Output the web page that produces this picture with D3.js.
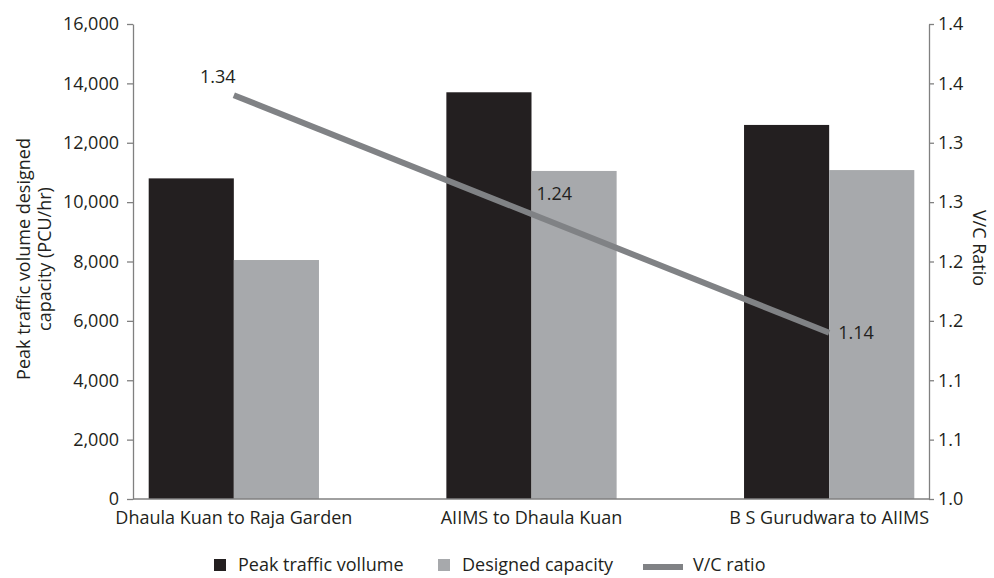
<!DOCTYPE html>
<html>
<head>
<meta charset="utf-8">
<script src="https://cdn.jsdelivr.net/npm/d3@7"></script>
<style>
  body { margin: 0; background: #fff; }
  svg text { font-family: "Open Sans", "Noto Sans", sans-serif; fill: #231f20; }
</style>
</head>
<body>
<svg></svg>
<script>
///////////////////////////////////////////
// Data
var categories = ["Dhaula Kuan to Raja Garden", "AIIMS to Dhaula Kuan", "B S Gurudwara to AIIMS"];
var peakVolume = [10800, 13700, 12600];
var designedCapacity = [8050, 11050, 11080];
var vcRatio = [1.34, 1.24, 1.14];
var vcLabels = ["1.34", "1.24", "1.14"];

var leftTicks = [0, 2000, 4000, 6000, 8000, 10000, 12000, 14000, 16000];
var rightTicks = [1.0, 1.05, 1.1, 1.15, 1.2, 1.25, 1.3, 1.35, 1.4];
var rightTickLabels = ["1.0", "1.1", "1.1", "1.2", "1.2", "1.3", "1.3", "1.4", "1.4"];

var seriesNames = ["Peak traffic vollume", "Designed capacity", "V/C ratio"];

///////////////////////////////////////////
// Layout
var svgWidth = 994, svgHeight = 578;
var plotLeft = 133, plotRight = 929, plotTop = 24, plotBottom = 499;
var barColor = "#231f20", capColor = "#a7a9ac", lineColor = "#808285", axisColor = "#808080";
var fontSize = 18;

var svg = d3.select("svg").attr("width", svgWidth).attr("height", svgHeight);

var x = d3.scaleBand().domain(categories).range([85, 978])
          .paddingInner(0.428).paddingOuter(0.214);
var xSub = d3.scaleBand().domain([0, 1]).range([0, x.bandwidth()]);
var yLeft = d3.scaleLinear().domain([0, 16000]).range([plotBottom, plotTop]);
var yRight = d3.scaleLinear().domain([1.0, 1.4]).range([plotBottom, plotTop]);

///////////////////////////////////////////
// Bars
var groups = svg.append("g").selectAll("g")
  .data(categories).join("g")
  .attr("transform", function(d) { return "translate(" + x(d) + ",0)"; });

groups.append("rect")
  .attr("x", xSub(0)).attr("width", xSub.bandwidth())
  .attr("y", function(d, i) { return yLeft(peakVolume[i]); })
  .attr("height", function(d, i) { return plotBottom - yLeft(peakVolume[i]); })
  .attr("fill", barColor);

groups.append("rect")
  .attr("x", xSub(1)).attr("width", xSub.bandwidth())
  .attr("y", function(d, i) { return yLeft(designedCapacity[i]); })
  .attr("height", function(d, i) { return plotBottom - yLeft(designedCapacity[i]); })
  .attr("fill", capColor);

///////////////////////////////////////////
// Axes
var leftAxis = svg.append("g").attr("transform", "translate(" + plotLeft + ",0)")
  .call(d3.axisLeft(yLeft).tickValues(leftTicks).tickFormat(d3.format(",")).tickSize(6).tickSizeOuter(0).tickPadding(8));
var rightAxis = svg.append("g").attr("transform", "translate(" + plotRight + ",0)")
  .call(d3.axisRight(yRight).tickValues(rightTicks)
    .tickFormat(function(d, i) { return rightTickLabels[i]; })
    .tickSize(5).tickSizeOuter(0).tickPadding(4));
[leftAxis, rightAxis].forEach(function(a) {
  a.selectAll("path, line").attr("stroke", axisColor).attr("stroke-width", 1.3);
  a.selectAll("text").attr("font-size", fontSize).attr("fill", "#231f20");
});

svg.append("line")
  .attr("x1", plotLeft).attr("x2", plotRight)
  .attr("y1", plotBottom).attr("y2", plotBottom)
  .attr("stroke", axisColor).attr("stroke-width", 1.3);

svg.append("g").selectAll("text")
  .data(categories).join("text")
  .attr("x", function(d) { return x(d) + x.bandwidth() / 2; })
  .attr("y", 524)
  .attr("text-anchor", "middle")
  .attr("font-size", fontSize)
  .text(function(d) { return d; });

// axis titles
var leftTitle = svg.append("text")
  .attr("transform", "translate(30,259) rotate(-90)")
  .attr("text-anchor", "middle").attr("font-size", fontSize);
leftTitle.append("tspan").attr("x", 0).attr("y", 0).text("Peak traffic volume designed");
leftTitle.append("tspan").attr("x", 0).attr("y", 21).text("capacity (PCU/hr)");

svg.append("text")
  .attr("transform", "translate(973,248) rotate(90)")
  .attr("text-anchor", "middle").attr("font-size", fontSize)
  .text("V/C Ratio");

///////////////////////////////////////////
// V/C line
var cx = function(i) { return x(categories[i]) + x.bandwidth() / 2; };
svg.append("path")
  .datum(vcRatio)
  .attr("d", d3.line().x(function(d, i) { return cx(i); }).y(function(d) { return yRight(d); }))
  .attr("fill", "none").attr("stroke", lineColor).attr("stroke-width", 6);

// label placement (manual, like the original)
var labelOffsets = [[-16, -12, "middle"], [5, -14, "start"], [9, 6, "start"]];
svg.append("g").selectAll("text")
  .data(vcRatio).join("text")
  .attr("x", function(d, i) { return cx(i) + labelOffsets[i][0]; })
  .attr("y", function(d, i) { return yRight(d) + labelOffsets[i][1]; })
  .attr("text-anchor", function(d, i) { return labelOffsets[i][2]; })
  .attr("font-size", fontSize)
  .text(function(d, i) { return vcLabels[i]; });

///////////////////////////////////////////
// Legend
var legend = svg.append("g").attr("transform", "translate(214,571)");
var legendX = [0, 224, 429];
var legendItems = legend.selectAll("g").data(seriesNames).join("g")
  .attr("transform", function(d, i) { return "translate(" + legendX[i] + ",0)"; });
legendItems.each(function(d, i) {
  var g = d3.select(this);
  if (i < 2) {
    g.append("rect").attr("x", 0).attr("y", -12).attr("width", 12).attr("height", 12)
      .attr("fill", i === 0 ? barColor : capColor);
    g.append("text").attr("x", 24).attr("y", 0).attr("font-size", fontSize).text(d);
  } else {
    g.append("rect").attr("x", 0).attr("y", -7).attr("width", 40).attr("height", 6)
      .attr("fill", lineColor);
    g.append("text").attr("x", 50).attr("y", 0).attr("font-size", fontSize).text(d);
  }
});
</script>
</body>
</html>
